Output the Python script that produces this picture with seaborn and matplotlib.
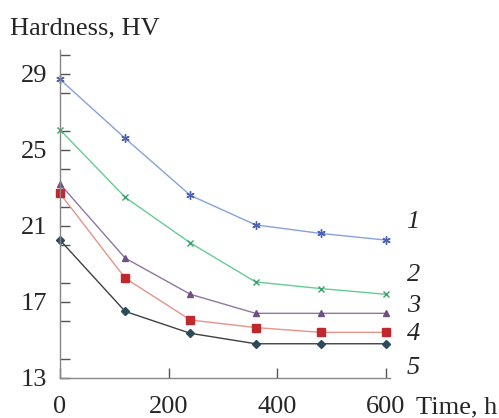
import numpy as np
import pandas as pd
import matplotlib
matplotlib.use("Agg")
import matplotlib.pyplot as plt
from matplotlib.ticker import MultipleLocator
import seaborn as sns

# tid (timer) og hardhet for de fem kurvene
time_h = [0, 120, 240, 360, 480, 600]
hv_1 = [28.7, 25.6, 22.6, 21.05, 20.6, 20.25]
hv_2 = [26.05, 22.5, 20.1, 18.05, 17.7, 17.4]
hv_3 = [23.2, 19.3, 17.4, 16.4, 16.4, 16.4]
hv_4 = [22.7, 18.25, 16.05, 15.65, 15.4, 15.4]
hv_5 = [20.25, 16.5, 15.35, 14.8, 14.8, 14.8]

curve_names = ["1", "2", "3", "4", "5"]
label_y = [21.2, 18.4, 16.8, 15.3, 13.55]

sns.set_style("ticks")
plt.rcParams["font.family"] = ["Liberation Serif", "DejaVu Serif"]

series = [hv_1, hv_2, hv_3, hv_4, hv_5]
line_colors = ["#86a2da", "#66cc95", "#8f76a2", "#e4948b", "#404040"]
mark_colors = ["#4a62b5", "#3aa56a", "#6e5183", "#c0282d", "#2d4a5a"]
markers = [(6, 2, 0), "x", "^", "s", "D"]
msizes = [6, 5, 5, 6, 4]

fig = plt.figure(figsize=(4.99, 4.18), dpi=100)
ax = fig.add_axes([0.1202, 0.0957, 0.661, 0.785])

for i, vals in enumerate(series):
    df = pd.DataFrame({"Tid": time_h, "HV": vals})
    sns.lineplot(data=df, x="Tid", y="HV", ax=ax, color=line_colors[i],
                 linewidth=1.0, marker=markers[i], markersize=msizes[i],
                 markerfacecolor=mark_colors[i], markeredgecolor=mark_colors[i],
                 markeredgewidth=1.0, clip_on=False)
    ax.text(650, label_y[i], curve_names[i], fontsize=19, style="italic",
            ha="center", va="center")

ax.set_xlim(0, 607)
ax.set_ylim(13, 30.25)
ax.set_xticks([0, 200, 400, 600])
ax.set_yticks([13, 17, 21, 25, 29])
ax.yaxis.set_minor_locator(MultipleLocator(2))
ax.set_xlabel("")
ax.set_ylabel("")
ax.tick_params(axis="both", which="both", direction="in", length=7,
               width=1.0, color="#555555", labelsize=19)
ax.tick_params(axis="y", pad=9)
ax.tick_params(axis="x", pad=13)
for s in ["top", "right"]:
    ax.spines[s].set_visible(False)
for s in ["left", "bottom"]:
    ax.spines[s].set_color("#888888")
    ax.spines[s].set_linewidth(1.0)

fig.text(10 / 499, 1 - 28 / 418, "Hardness, HV", fontsize=19, va="center", ha="left")
fig.text(416 / 499, 1 - 413 / 418, "Time, h", fontsize=19, va="baseline", ha="left")

fig.savefig("out.png", dpi=100)
